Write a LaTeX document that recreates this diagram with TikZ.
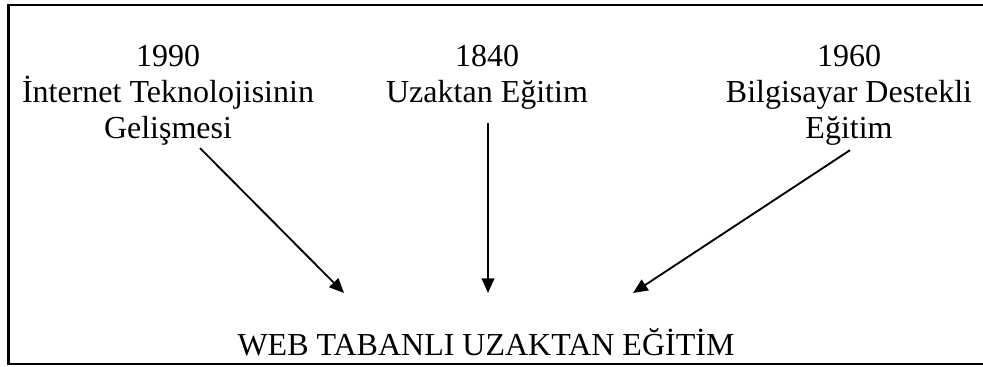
\documentclass[tikz,border=0pt]{standalone}
\usepackage{fontspec}
\setmainfont{Liberation Serif}
\usetikzlibrary{arrows.meta}

\tikzset{
    lbl/.style={anchor=base, inner sep=0pt, font=\fontsize{24pt}{27pt}\selectfont},
    arr/.style={-{Triangle[length=11pt, width=9.5pt]}, line width=1.4pt},
}

\begin{document}
\begin{tikzpicture}[x=0.75pt, y=-0.75pt]
        \useasboundingbox (0,0) rectangle (983,367);

        % Frame (open to the right)
        \draw[line width=1.6pt] (8.5,5) rectangle (1000,364);

        % Internet
        \node[lbl] (inet-year) at (168,67) {1990};
        \node[lbl] (inet-a) at (168,103) {İnternet Teknolojisinin};
        \node[lbl] (inet-b) at (168,139) {Gelişmesi};

        % Distance education
        \node[lbl] (dist-year) at (487,67) {1840};
        \node[lbl] (dist-a) at (487,103) {Uzaktan Eğitim};

        % Computer aided
        \node[lbl] (cai-year) at (849,67) {1960};
        \node[lbl] (cai-a) at (849,103) {Bilgisayar Destekli};
        \node[lbl] (cai-b) at (849,139) {Eğitim};

        % Result
        \node[lbl] (web) at (486,356) {WEB TABANLI UZAKTAN EĞİTİM};

        % Arrow tips
        \coordinate (tip-l) at (344,293);
        \coordinate (tip-m) at (488,293);
        \coordinate (tip-r) at (633,293);

        \draw[arr] ([shift={(32,2)}]inet-b.south) -- (tip-l);
        \draw[arr] ([shift={(1,13)}]dist-a.south) -- (tip-m);
        \draw[arr] ([shift={(1,4)}]cai-b.south) -- (tip-r);
    \end{tikzpicture}
\end{document}
